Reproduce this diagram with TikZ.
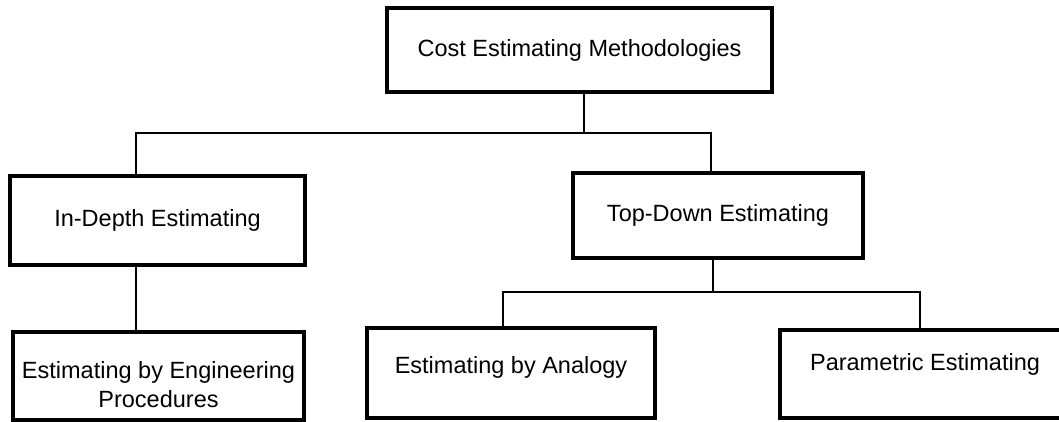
\documentclass[tikz,border=0pt]{standalone}
\usepackage{fontspec}
\setmainfont{Liberation Sans}
\usepackage{tikz}
\tikzstyle{box} = [draw, line width=3.5pt, minimum width=290pt, minimum height=88pt, inner sep=0pt, align=center]
\tikzstyle{line} = [draw, line width=2pt]

\begin{document}
\begin{tikzpicture}[x=1pt, y=-1pt, font=\fontsize{23.5}{29}\selectfont]
\useasboundingbox (0,0) rectangle (1059,421);
\clip (0,0) rectangle (1059,421);
%
\node[box, minimum width=385pt, minimum height=84pt] (cem) at (579.5,50) {Cost Estimating Methodologies};
\node[box, minimum width=295pt, minimum height=89pt] (indepth) at (157.5,220.5) {In-Depth Estimating};
\node[box, minimum height=85pt] (topdown) at (718,215.5) {Top-Down Estimating};
%
\node[box, minimum width=291pt] (engproc) at (158.5,376) {\rule{0pt}{35pt}Estimating by Engineering\\Procedures};
\node[box, minimum width=288pt, minimum height=90pt, text depth=16pt] (analogy) at (511,373) {Estimating by Analogy};
\node[box, text depth=24pt] (param) at (925,374) {Parametric Estimating};
%
\coordinate (jtop) at (584,133);
\coordinate (jleft) at (136,133);
\coordinate (jright) at (711,133);
\coordinate (jmid) at (713,292);
\coordinate (jana) at (503,292);
\coordinate (jpar) at (920,292);
%
\path[line] (cem.south -| jtop) -- (jtop);
\path[line] (indepth.north -| jleft) -- (jleft) -- (jright) -- (topdown.north -| jright);
\path[line] (indepth.south -| jleft) -- (engproc.north -| jleft);
\path[line] (topdown.south -| jmid) -- (jmid);
\path[line] (analogy.north -| jana) -- (jana) -- (jpar) -- (param.north -| jpar);
\end{tikzpicture}
\end{document}
